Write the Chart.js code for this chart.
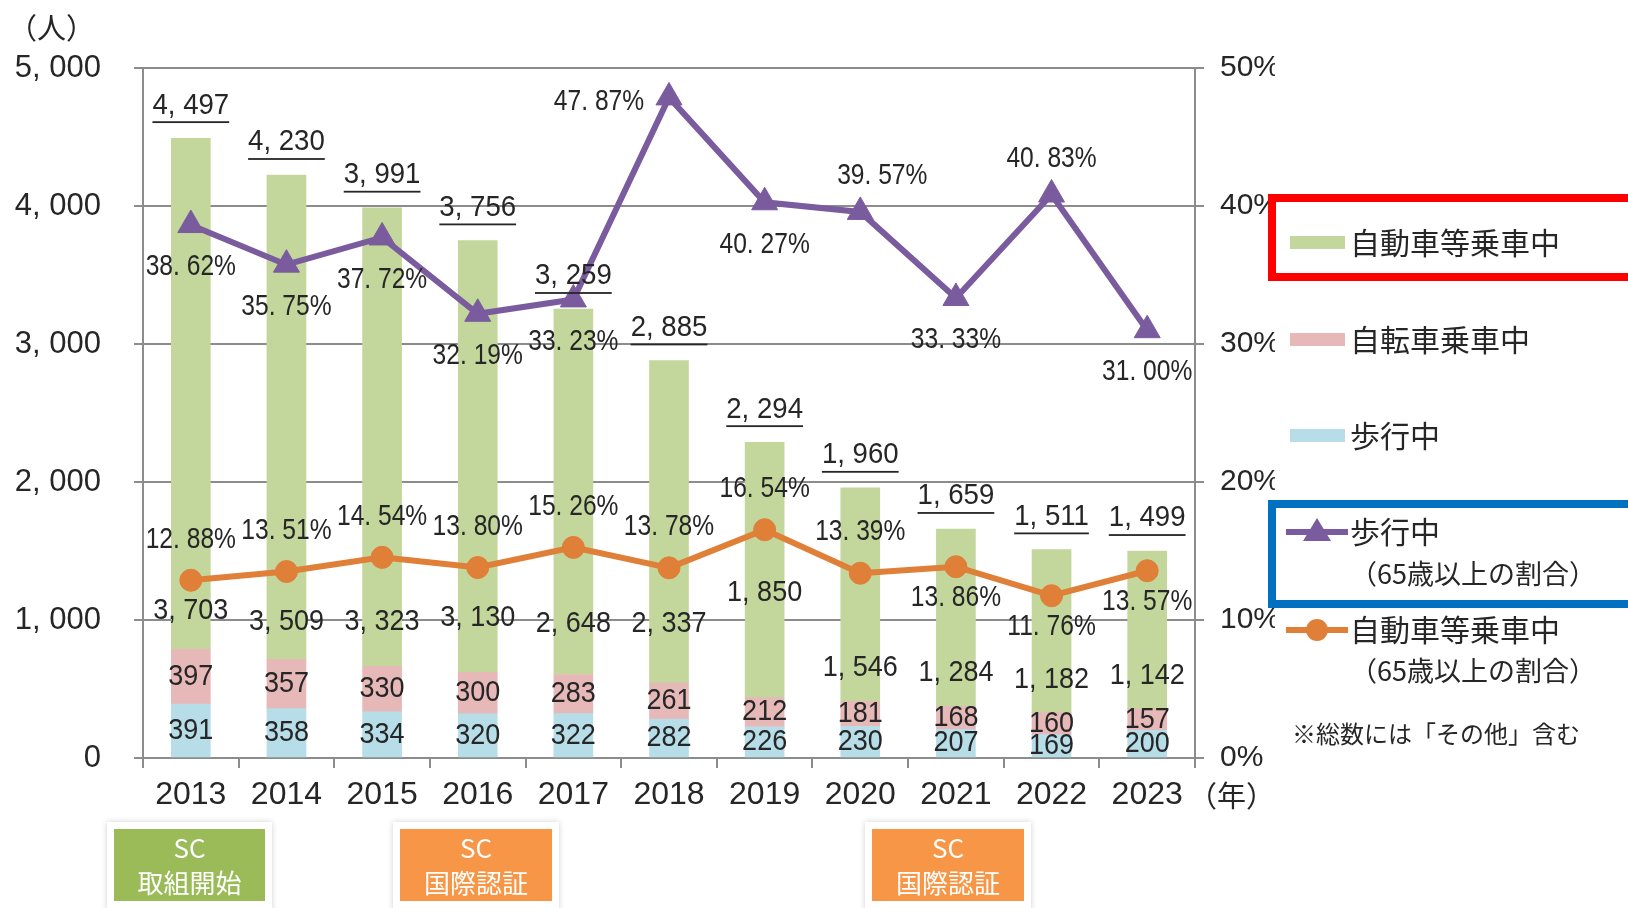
<!DOCTYPE html>
<html>
<head>
<meta charset="utf-8">
<style>
  html, body { margin: 0; padding: 0; background: #fff; }
  #wrap { width: 1628px; height: 908px; position: relative; }
</style>
<script src="https://cdn.jsdelivr.net/npm/chart.js@4.4.0/dist/chart.umd.min.js"></script>
</head>
<body>
<div id="wrap"><canvas id="c" width="1628" height="908"></canvas></div>
<script>
// data
const years = ['2013', '2014', '2015', '2016', '2017', '2018', '2019', '2020', '2021', '2022', '2023'];
const totalDeaths = [4497, 4230, 3991, 3756, 3259, 2885, 2294, 1960, 1659, 1511, 1499];
const carDeaths = [3703, 3509, 3323, 3130, 2648, 2337, 1850, 1546, 1284, 1182, 1142];
const bikeDeaths = [397, 357, 330, 300, 283, 261, 212, 181, 168, 160, 157];
const walkDeaths = [391, 358, 334, 320, 322, 282, 226, 230, 207, 169, 200];
const walkElderlyPct = [38.62, 35.75, 37.72, 32.19, 33.23, 47.87, 40.27, 39.57, 33.33, 40.83, 31.00];
const carElderlyPct = [12.88, 13.51, 14.54, 13.80, 15.26, 13.78, 16.54, 13.39, 13.86, 11.76, 13.57];

// where the labels go (not data)
const carLabelAt = [1070, 990, 990, 1015, 975, 975, 1200, 655, 620, 565, 595];
const walkPctSide = ['below', 'below', 'below', 'below', 'below', 'left', 'below', 'aboveR', 'below', 'above', 'below'];
const carPctSide = ['above', 'above', 'above', 'above', 'above', 'above', 'above', 'above', 'below', 'below', 'below'];

const FONT = "'Liberation Sans', 'Noto Sans CJK JP', sans-serif";
const JP = "'Noto Sans CJK JP', sans-serif";
const GRID = '#8c8c8c';
const TEXT = '#262626';
const PURPLE = '#7a5c9e';
const ORANGE = '#e07f37';

function comma(v) {
    if (v < 1000) return String(v);
    return Math.floor(v / 1000) + ', ' + String(v % 1000).padStart(3, '0');
}
function pct(v) {
    var s = v.toFixed(2).split('.');
    return s[0] + '. ' + s[1] + '%';
}

// the source uses a narrow face, so squeeze horizontally around x
function narrow(ctx, s, x, y, sq, underline) {
    ctx.save();
    ctx.translate(x, y);
    ctx.scale(sq, 1);
    ctx.fillText(s, 0, 0);
    if (underline) {
        var w = ctx.measureText(s).width;
        ctx.fillRect(-w / 2, 16, w, 1.8);
    }
    ctx.restore();
}

function card(ctx, x, y, w, h, color, l1, l2) {
    ctx.save();
    ctx.shadowColor = 'rgba(0,0,0,0.18)';
    ctx.shadowBlur = 6;
    ctx.fillStyle = '#fff';
    ctx.fillRect(x - 7, y - 7, w + 14, h + 20);
    ctx.restore();
    ctx.fillStyle = color;
    ctx.fillRect(x, y, w, h);
    ctx.fillStyle = '#fff';
    ctx.textAlign = 'center';
    ctx.textBaseline = 'middle';
    ctx.font = '26px ' + JP;
    ctx.fillText(l1, x + w / 2, y + 19);
    ctx.fillText(l2, x + w / 2, y + 54);
}

const labelPlugin = {
    id: 'labels',
    afterDatasetsDraw: function (chart) {
        var ctx = chart.ctx;
        var ys = chart.scales.y;
        var walkMeta = chart.getDatasetMeta(0);
        var bikeMeta = chart.getDatasetMeta(1);
        var carMeta = chart.getDatasetMeta(2);
        var pWalk = chart.getDatasetMeta(3);
        var pCar = chart.getDatasetMeta(4);
        ctx.save();
        ctx.fillStyle = TEXT;
        ctx.textAlign = 'center';
        ctx.textBaseline = 'middle';
        ctx.font = '30px ' + FONT;
        years.forEach(function (yr, i) {
            var c = carMeta.data[i], b = bikeMeta.data[i], w = walkMeta.data[i];
            narrow(ctx, comma(totalDeaths[i]), c.x, c.y - 33, 0.92, true);
            narrow(ctx, comma(carDeaths[i]), c.x, ys.getPixelForValue(carLabelAt[i]), 0.9);
            narrow(ctx, String(bikeDeaths[i]), b.x, (b.y + b.base) / 2, 0.9);
            narrow(ctx, String(walkDeaths[i]), w.x, (w.y + w.base) / 2, 0.9);

            var p = pWalk.data[i], side = walkPctSide[i];
            var dx = 0, dy = 42;
            if (side === 'left') { dx = -70; dy = 4; }
            if (side === 'above') { dy = -36; }
            if (side === 'aboveR') { dx = 22; dy = -36; }
            narrow(ctx, pct(walkElderlyPct[i]), p.x + dx, p.y + dy, 0.82);

            var q = pCar.data[i];
            narrow(ctx, pct(carElderlyPct[i]), q.x, q.y + (carPctSide[i] === 'above' ? -41 : 31), 0.82);
        });
        ctx.restore();
    },
    afterDraw: function (chart) {
        var ctx = chart.ctx;
        ctx.save();
        ctx.fillStyle = TEXT;
        ctx.textBaseline = 'middle';
        ctx.textAlign = 'left';
        ctx.font = '29px ' + JP;
        ctx.fillText('（人）', 8, 28);
        ctx.fillText('（年）', 1188, 796);

        // legend
        ctx.lineWidth = 8;
        ctx.strokeStyle = '#ff0000';
        ctx.strokeRect(1272, 198, 400, 79);
        ctx.strokeStyle = '#0070c0';
        ctx.strokeRect(1272, 504, 400, 100);

        var sw = [['#c3d69b', 243, '自動車等乗車中'], ['#e6b9b8', 340, '自転車乗車中'], ['#b7dee8', 436, '歩行中']];
        ctx.font = '30px ' + JP;
        sw.forEach(function (s) {
            ctx.fillStyle = s[0];
            ctx.fillRect(1290, s[1] - 7, 55, 13);
            ctx.fillStyle = TEXT;
            ctx.fillText(s[2], 1350, s[1]);
        });

        ctx.lineWidth = 6;
        ctx.strokeStyle = PURPLE;
        ctx.beginPath(); ctx.moveTo(1286, 532); ctx.lineTo(1348, 532); ctx.stroke();
        ctx.fillStyle = PURPLE;
        ctx.beginPath(); ctx.moveTo(1317, 518); ctx.lineTo(1331, 541); ctx.lineTo(1303, 541); ctx.closePath(); ctx.fill();
        ctx.strokeStyle = ORANGE;
        ctx.beginPath(); ctx.moveTo(1286, 630); ctx.lineTo(1348, 630); ctx.stroke();
        ctx.fillStyle = ORANGE;
        ctx.beginPath(); ctx.arc(1317, 630, 11, 0, Math.PI * 2); ctx.fill();

        ctx.fillStyle = TEXT;
        ctx.fillText('歩行中', 1350, 532);
        ctx.fillText('自動車等乗車中', 1350, 630);
        ctx.font = '27px ' + JP;
        ctx.fillText('（65歳以上の割合）', 1350, 574);
        ctx.fillText('（65歳以上の割合）', 1350, 671);
        ctx.font = '24px ' + JP;
        ctx.fillText('※総数には「その他」含む', 1292, 734);

        // SC milestones
        card(ctx, 114, 829, 151, 72, '#9bbb59', 'SC', '取組開始');
        card(ctx, 400, 829, 152, 72, '#f79646', 'SC', '国際認証');
        card(ctx, 872, 829, 152, 72, '#f79646', 'SC', '国際認証');
        ctx.restore();
    }
};

new Chart(document.getElementById('c'), {
    type: 'bar',
    data: {
        labels: years,
        datasets: [
            { label: '歩行中', data: walkDeaths, backgroundColor: '#b7dee8', order: 2, barThickness: 39 },
            { label: '自転車乗車中', data: bikeDeaths, backgroundColor: '#e6b9b8', order: 2, barThickness: 39 },
            { label: '自動車等乗車中', data: carDeaths, backgroundColor: '#c3d69b', order: 2, barThickness: 39 },
            {
                type: 'line', label: '歩行中（65歳以上の割合）', data: walkElderlyPct, yAxisID: 'y2', order: 0,
                borderColor: PURPLE, backgroundColor: PURPLE, borderWidth: 6,
                pointStyle: 'triangle', pointRadius: 15, pointBorderWidth: 1
            },
            {
                type: 'line', label: '自動車等乗車中（65歳以上の割合）', data: carElderlyPct, yAxisID: 'y2', order: 0,
                borderColor: ORANGE, backgroundColor: ORANGE, borderWidth: 6,
                pointStyle: 'circle', pointRadius: 11, pointBorderWidth: 1
            }
        ]
    },
    options: {
        responsive: false,
        animation: false,
        devicePixelRatio: 1,
        layout: { padding: { left: 0, right: 353, top: 68, bottom: 0 } },
        plugins: { legend: { display: false }, tooltip: { enabled: false } },
        scales: {
            x: {
                stacked: true,
                afterFit: function (s) { s.height = 150; },
                grid: { offset: true, drawOnChartArea: false, color: GRID, lineWidth: 2, tickLength: 10 },
                border: { color: GRID, width: 2 },
                ticks: { color: TEXT, font: { family: FONT, size: 32 }, padding: 8 }
            },
            y: {
                stacked: true, min: 0, max: 5000,
                afterFit: function (s) { s.width = 143; },
                grid: { color: GRID, lineWidth: 2, tickLength: 9 },
                border: { color: GRID, width: 2 },
                ticks: { stepSize: 1000, color: TEXT, font: { family: FONT, size: 31 }, padding: 33, callback: function (v) { return comma(v); } }
            },
            y2: {
                position: 'right', min: 0, max: 50,
                afterFit: function (s) { s.width = 80; },
                grid: { drawOnChartArea: false, color: GRID, lineWidth: 2, tickLength: 9 },
                border: { color: GRID, width: 2 },
                ticks: { stepSize: 10, color: TEXT, font: { family: FONT, size: 30 }, padding: 16, callback: function (v) { return v + '%'; } }
            }
        }
    },
    plugins: [labelPlugin]
});
</script>
</body>
</html>
